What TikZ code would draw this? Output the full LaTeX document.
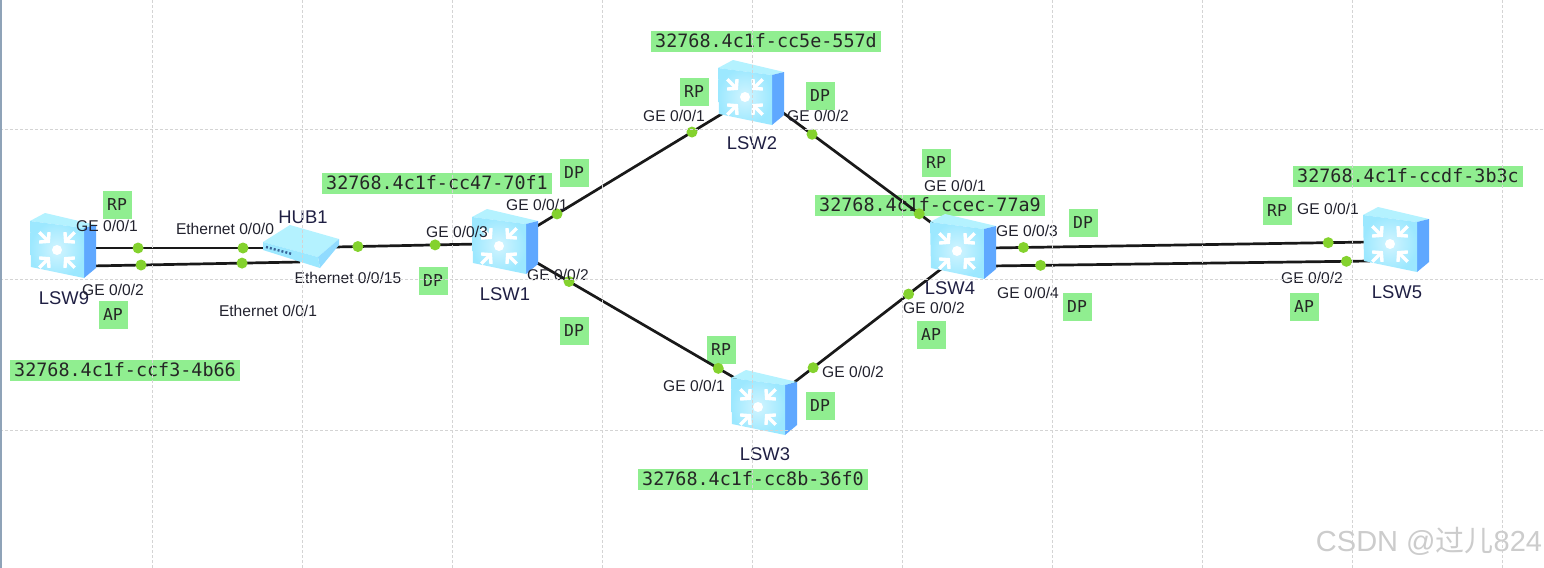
\documentclass[tikz,border=0pt]{standalone}
\usepackage{fontspec}
\setmainfont{Liberation Sans}
\setmonofont{DejaVu Sans Mono}
\newfontfamily\cjk{Noto Sans CJK SC}
\usepackage{xcolor}
\usetikzlibrary{arrows.meta}
\definecolor{idgreen}{HTML}{90EE90}
\definecolor{portgreen}{HTML}{84D22E}
\definecolor{gridgray}{HTML}{D4D4D4}
\definecolor{labelink}{HTML}{22222E}
\definecolor{swfront}{HTML}{9CE8FF}
\definecolor{swtop}{HTML}{B4F2FF}
\definecolor{swside}{HTML}{5FA8FF}
\definecolor{edgeblue}{HTML}{8FA3B8}
\tikzset{
  idbox/.style={fill=idgreen,font=\ttfamily\fontsize{9.2}{10}\selectfont,inner xsep=2pt,inner ysep=0pt,minimum height=10.5pt,text=black!85},
  rolebox/.style={fill=idgreen,font=\ttfamily\fontsize{8.2}{9}\selectfont,inner sep=0pt,minimum width=14.5pt,minimum height=14pt,text=black!85},
  portlabel/.style={font=\fontsize{7.8}{9}\selectfont,text=labelink,inner sep=0pt},
  devlabel/.style={font=\fontsize{9.2}{10}\selectfont,text=labelink!90!blue,inner sep=0pt},
  link/.style={line width=1.35pt,black!90},
  port/.style={circle,fill=portgreen,inner sep=0pt,minimum size=5.5pt},
  swbody/.style={inner sep=0pt,minimum width=32pt,minimum height=32pt},
  hubbody/.style={inner sep=0pt,minimum width=38pt,minimum height=21pt},
  pics/swicon/.style={code={
    \fill[swtop] (-33,-25) -- (-18,-33) -- (33,-21) -- (21,-18) -- cycle;
    \fill[swside] (21,-18) -- (33,-21) -- (33,22) -- (21,32) -- cycle;
    \shade[inner color=swfront!45!white,outer color=swfront] (-33,-25) -- (21,-18) -- (21,32) -- (-32,21) -- cycle;
    \fill[white] (-6,4) circle (5);
    \foreach \ang in {45,135,225,315}
      \draw[white,line width=1.7pt,-{Straight Barb[length=3pt,width=7pt]}] (-6,4) ++(\ang:25) -- ++(\ang:-15);
  }},
  pics/hubicon/.style={code={
    \fill[swtop] (-37,-4) -- (-10,-21) -- (39,-7) -- (18,11) -- cycle;
    \fill[swfront!80!swside] (18,11) -- (39,-7) -- (39,-1) -- (20,22) -- cycle;
    \fill[swfront] (-37,-4) -- (18,11) -- (20,22) -- (-37,4) -- cycle;
    \draw[swside!60!black,line width=1.2pt,dash pattern=on 1pt off 1pt] (-34,1) -- (-8,8);
  }}
}

\begin{document}
\begin{tikzpicture}[x=0.5pt,y=-0.5pt]
  \useasboundingbox (0,0) rectangle (1544,568);
  \fill[white] (0,0) rectangle (1544,568);

  % bridge ids and port roles sit under the links
  \node[idbox] (idlsw9) at (125,370) {32768.4c1f-ccf3-4b66};
  \node[idbox] (idlsw1) at (437,183) {32768.4c1f-cc47-70f1};
  \node[idbox] (idlsw2) at (766,41) {32768.4c1f-cc5e-557d};
  \node[idbox] (idlsw3) at (753,479) {32768.4c1f-cc8b-36f0};
  \node[idbox] (idlsw4) at (930,205) {32768.4c1f-ccec-77a9};
  \node[idbox] (idlsw5) at (1408,176) {32768.4c1f-ccdf-3b3c};

  \node[rolebox] (role9a) at (117,205) {RP};
  \node[rolebox] (role9b) at (113,315) {AP};
  \node[rolebox] (rolehub) at (433,281) {DP};
  \node[rolebox] (role1a) at (574,173) {DP};
  \node[rolebox] (role1b) at (574,331) {DP};
  \node[rolebox] (role2a) at (694,92) {RP};
  \node[rolebox] (role2b) at (820,96) {DP};
  \node[rolebox] (role3a) at (721,350) {RP};
  \node[rolebox] (role3b) at (820,406) {DP};
  \node[rolebox] (role4a) at (936,163) {RP};
  \node[rolebox] (role4b) at (931,335) {AP};
  \node[rolebox] (role4c) at (1083,223) {DP};
  \node[rolebox] (role4d) at (1077,307) {DP};
  \node[rolebox] (role5a) at (1277,211) {RP};
  \node[rolebox] (role5b) at (1304,307) {AP};

  % devices
  \node[swbody] (lsw9) at (63,246) {};
  \node[swbody] (lsw1) at (505,242) {};
  \node[swbody] (lsw2) at (751,93) {};
  \node[swbody] (lsw3) at (764,403) {};
  \node[swbody] (lsw4) at (963,247) {};
  \node[swbody] (lsw5) at (1396,240) {};
  \node[hubbody] (hub1) at (300,246) {};

  % link ends
  \coordinate (lsw9a) at (90,248);
  \coordinate (lsw9b) at (90,266);
  \coordinate (huba) at (270,248);
  \coordinate (hubb) at (300,262);
  \coordinate (hubc) at (335,247);
  \coordinate (lsw1c) at (478,244);
  \coordinate (lsw1a) at (533,228.5);
  \coordinate (lsw2a) at (725,112);
  \coordinate (lsw2b) at (778,109);
  \coordinate (lsw4a) at (937,227);
  \coordinate (lsw1b) at (533,260.5);
  \coordinate (lsw3a) at (740,381);
  \coordinate (lsw3b) at (792,384);
  \coordinate (lsw4b) at (945,266);
  \coordinate (lsw4c) at (990,248);
  \coordinate (lsw5a) at (1370,242);
  \coordinate (lsw4d) at (990,266);
  \coordinate (lsw5b) at (1370,261);

  \draw[link] (lsw9a) -- node[port,pos=.267] (p9a) {} node[port,pos=.85] (phuba) {} (huba);
  \draw[link] (lsw9b) -- node[port,pos=.243] (p9b) {} node[port,pos=.724] (phubb) {} (hubb);
  \draw[link] (hubc) -- node[port,pos=.16] (phubc) {} node[port,pos=.70] (p1c) {} (lsw1c);
  \draw[link] (lsw1a) -- node[port,pos=.125] (p1a) {} node[port,pos=.828] (p2a) {} (lsw2a);
  \draw[link] (lsw2b) -- node[port,pos=.214] (p2b) {} node[port,pos=.888] (p4a) {} (lsw4a);
  \draw[link] (lsw1b) -- node[port,pos=.174] (p1b) {} node[port,pos=.895] (p3a) {} (lsw3a);
  \draw[link] (lsw3b) -- node[port,pos=.138] (p3b) {} node[port,pos=.762] (p4b) {} (lsw4b);
  \draw[link] (lsw4c) -- node[port,pos=.088] (p4c) {} node[port,pos=.89] (p5a) {} (lsw5a);
  \draw[link] (lsw4d) -- node[port,pos=.133] (p4d) {} node[port,pos=.938] (p5b) {} (lsw5b);

  \pic at (lsw9) {swicon};
  \pic at (lsw1) {swicon};
  \pic at (lsw2) {swicon};
  \pic at (lsw3) {swicon};
  \pic at (lsw4) {swicon};
  \pic at (lsw5) {swicon};
  \pic at (hub1) {hubicon};

  % names
  \node[devlabel] (namelsw9) at (64,298) {LSW9};
  \node[devlabel] (namelsw1) at (505,294) {LSW1};
  \node[devlabel] (namelsw2) at (752,143) {LSW2};
  \node[devlabel] (namelsw3) at (765,454) {LSW3};
  \node[devlabel] (namelsw4) at (950,288) {LSW4};
  \node[devlabel] (namelsw5) at (1397,292) {LSW5};
  \node[devlabel] (namehub) at (303,217) {HUB1};

  % port labels
  \node[portlabel] (t9a) at (107,226) {GE 0/0/1};
  \node[portlabel] (t9b) at (113,290) {GE 0/0/2};
  \node[portlabel] (thuba) at (225,229) {Ethernet 0/0/0};
  \node[portlabel] (thubb) at (268,311) {Ethernet 0/0/1};
  \node[portlabel] (thubc) at (348,278) {Ethernet 0/0/15};
  \node[portlabel] (t1c) at (457,232) {GE 0/0/3};
  \node[portlabel] (t1a) at (537,205) {GE 0/0/1};
  \node[portlabel] (t1b) at (558,275) {GE 0/0/2};
  \node[portlabel] (t2a) at (674,116) {GE 0/0/1};
  \node[portlabel] (t2b) at (818,116) {GE 0/0/2};
  \node[portlabel] (t3a) at (694,386) {GE 0/0/1};
  \node[portlabel] (t3b) at (853,372) {GE 0/0/2};
  \node[portlabel] (t4a) at (955,186) {GE 0/0/1};
  \node[portlabel] (t4b) at (934,308) {GE 0/0/2};
  \node[portlabel] (t4c) at (1027,231) {GE 0/0/3};
  \node[portlabel] (t4d) at (1028,293) {GE 0/0/4};
  \node[portlabel] (t5a) at (1328,209) {GE 0/0/1};
  \node[portlabel] (t5b) at (1312,278) {GE 0/0/2};

  % canvas grid lies over everything
  \foreach \gx in {152,302,452,602,752,902,1052,1202,1352,1502}
    \draw[gridgray,dash pattern=on 1.5pt off 1pt,line width=0.5pt] (\gx,0) -- (\gx,568);
  \foreach \gy in {129,279,430}
    \draw[gridgray,dash pattern=on 1.5pt off 1pt,line width=0.5pt] (0,\gy) -- (1544,\gy);
  \draw[edgeblue,line width=1pt] (0.5,0) -- (0.5,568);

  \node[inner sep=0pt,text=gray!40,font=\fontsize{14.5}{16}\selectfont] (mark) at (1429,541) {CSDN @{\cjk 过儿}824};
\end{tikzpicture}
\end{document}
